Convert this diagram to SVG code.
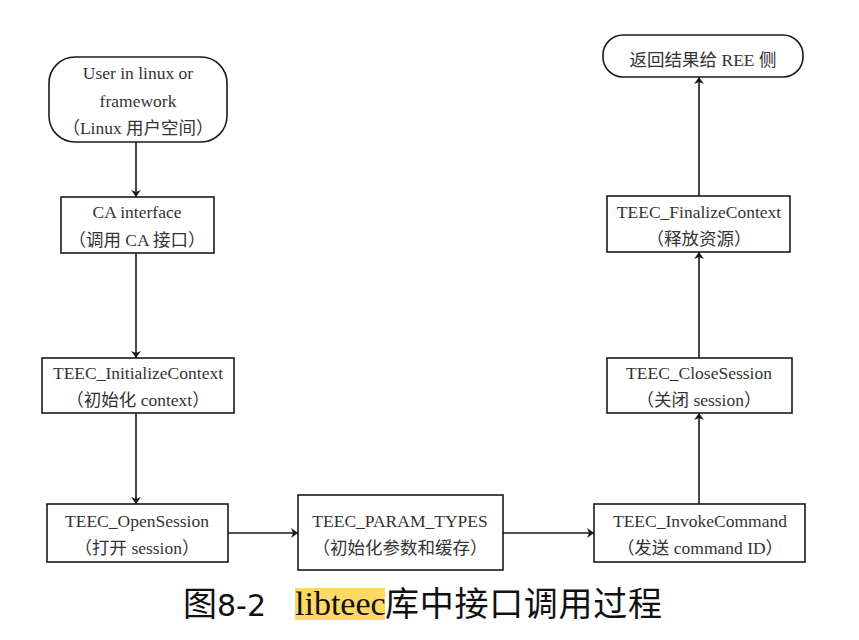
<svg xmlns="http://www.w3.org/2000/svg" width="859" height="640" viewBox="0 0 859 640">
<style>
.box{fill:#fff;stroke:#1a1a1a;stroke-width:1.6}
.t{font-family:"Liberation Serif","Noto Sans CJK SC",serif;font-size:17.5px;fill:#333;text-anchor:middle}
.c{stroke:#1a1a1a;stroke-width:1.6;fill:none;marker-end:url(#ah)}
.cap{font-family:"DejaVu Sans","Noto Sans CJK SC",sans-serif;font-size:30px;fill:#111}
.capz{font-family:"Noto Sans CJK SC",sans-serif;font-size:34px;fill:#111}
</style>
<defs>
<marker id="ah" viewBox="0 0 10 14" refX="10" refY="7" markerWidth="7" markerHeight="10" orient="auto" markerUnits="userSpaceOnUse">
<path d="M0,0 L10,7 L0,14 L3,7 Z" fill="#1a1a1a"/>
</marker>
</defs>
<rect width="859" height="640" fill="#fff"/>
<g id="connectors">
<line class="c" x1="136" y1="142" x2="136" y2="197"/>
<line class="c" x1="136" y1="253" x2="136" y2="358"/>
<line class="c" x1="136" y1="413" x2="136" y2="504"/>
<line class="c" x1="228" y1="533" x2="298" y2="533"/>
<line class="c" x1="503" y1="533" x2="594" y2="533"/>
<line class="c" x1="699" y1="504" x2="699" y2="413"/>
<line class="c" x1="699" y1="358" x2="699" y2="252"/>
<line class="c" x1="699" y1="196" x2="699" y2="77"/>
</g>
<g id="user">
<rect class="box" x="49" y="57" width="178" height="85" rx="26"/>
<text class="t" x="138" y="79">User in linux or</text>
<text class="t" x="138" y="107">framework</text>
<text class="t" x="138" y="134">（Linux 用户空间）</text>
</g>
<g id="ca">
<rect class="box" x="61" y="197" width="153" height="56"/>
<text class="t" x="137" y="218">CA interface</text>
<text class="t" x="137" y="246">（调用 CA 接口）</text>
</g>
<g id="init">
<rect class="box" x="42" y="358" width="192" height="55"/>
<text class="t" x="138" y="379">TEEC_InitializeContext</text>
<text class="t" x="138" y="406">（初始化 context）</text>
</g>
<g id="open">
<rect class="box" x="47" y="504" width="181" height="58"/>
<text class="t" x="137" y="527">TEEC_OpenSession</text>
<text class="t" x="137" y="554">（打开 session）</text>
</g>
<g id="param">
<rect class="box" x="298" y="495" width="205" height="75"/>
<text class="t" x="400" y="527">TEEC_PARAM_TYPES</text>
<text class="t" x="400" y="554">（初始化参数和缓存）</text>
</g>
<g id="invoke">
<rect class="box" x="594" y="504" width="211" height="58"/>
<text class="t" x="700" y="527">TEEC_InvokeCommand</text>
<text class="t" x="700" y="554">（发送 command ID）</text>
</g>
<g id="close">
<rect class="box" x="607" y="358" width="185" height="55"/>
<text class="t" x="699" y="379">TEEC_CloseSession</text>
<text class="t" x="699" y="406">（关闭 session）</text>
</g>
<g id="finalize">
<rect class="box" x="607" y="196" width="183" height="56"/>
<text class="t" x="699" y="218">TEEC_FinalizeContext</text>
<text class="t" x="699" y="245">（释放资源）</text>
</g>
<g id="return">
<rect class="box" x="603" y="35" width="200" height="42" rx="20"/>
<text class="t" x="703" y="66">返回结果给 REE 侧</text>
</g>
<g id="caption">
<rect x="295" y="588" width="90" height="32" fill="#FFD966"/>
<text class="capz" x="183" y="616">图<tspan class="cap">8-2</tspan></text>
<text x="295" y="615" style="font-family:'Liberation Serif',serif;font-size:34px;fill:#111">libteec</text>
<text class="capz" x="385" y="616" textLength="277" lengthAdjust="spacing">库中接口调用过程</text>
</g>
</svg>
